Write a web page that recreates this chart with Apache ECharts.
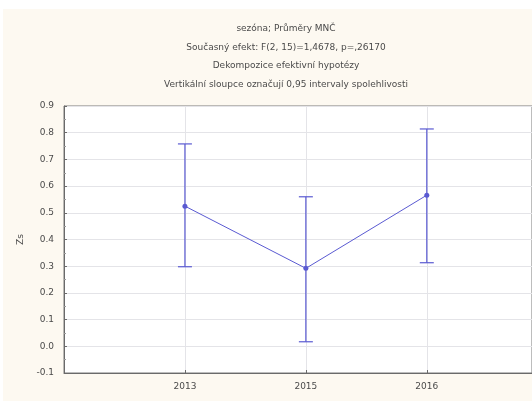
<!DOCTYPE html>
<html>
<head>
<meta charset="utf-8">
<script src="https://cdn.jsdelivr.net/npm/echarts@6/dist/echarts.min.js"></script>
<style>
  html, body { margin: 0; padding: 0; background: #ffffff; }
  #bg { position: absolute; left: 3px; top: 9px; width: 529px; height: 392px; background: #fdf9f1; }
  #chart { position: absolute; left: 0; top: 0; width: 532px; height: 401px; }
</style>
</head>
<body>
<div id="bg"></div>
<div id="chart"></div>
<script>
const years = ['2013', '2015', '2016']
const means = [0.525, 0.292, 0.566]
const lowers = [0.298, 0.017, 0.313]
const uppers = [0.758, 0.560, 0.814]
const titleLines = [
  'sezóna; Průměry MNČ',
  'Současný efekt: F(2, 15)=1,4678, p=,26170',
  'Dekompozice efektivní hypotézy',
  'Vertikální sloupce označují 0,95 intervaly spolehlivosti'
]

const chart = echarts.init(document.getElementById('chart'))
const lineColor = '#5a5ad2'
const textColor = '#4a4a4a'
const font = 'DejaVu Sans'

const linePoints = means.map((v, i) => [i + 1, v])
const barPoints = years.map((y, i) => [i + 1, lowers[i], uppers[i]])

chart.setOption({
  backgroundColor: 'transparent',
  animation: false,
  title: titleLines.map((t, i) => ({
    text: t,
    left: 281,
    textAlign: 'center',
    top: 19 + i * 18.7,
    textStyle: {
      fontFamily: font,
      fontSize: 9,
      fontWeight: 'normal',
      color: textColor
    }
  })),
  grid: {
    left: 64,
    right: 0,
    top: 106,
    bottom: 28,
    show: true,
    backgroundColor: '#ffffff',
    borderColor: '#7a7a7a',
    borderWidth: 1
  },
  xAxis: {
    type: 'value',
    min: 0,
    max: 3.87,
    interval: 1,
    axisLine: { show: true, onZero: false, lineStyle: { color: '#6a6a6a' } },
    axisTick: { show: true, inside: true, length: 3, lineStyle: { color: '#6a6a6a' } },
    axisLabel: {
      color: textColor,
      fontFamily: font,
      fontSize: 9,
      margin: 9,
      showMaxLabel: false,
      formatter: v => years[v - 1] || ''
    },
    splitLine: { show: true, lineStyle: { color: '#e4e4e8' } }
  },
  yAxis: {
    type: 'value',
    min: -0.1,
    max: 0.9,
    interval: 0.1,
    name: 'Zs',
    nameLocation: 'middle',
    nameGap: 38,
    nameTextStyle: { color: textColor, fontFamily: font, fontSize: 9 },
    axisLine: { show: true, lineStyle: { color: '#6a6a6a' } },
    axisTick: { show: true, inside: true, length: 3, lineStyle: { color: '#6a6a6a' } },
    minorTick: { show: true, splitNumber: 2, length: 2, lineStyle: { color: '#9a9a9a' } },
    axisLabel: {
      color: textColor,
      fontFamily: font,
      fontSize: 9,
      margin: 10,
      formatter: v => v.toFixed(1)
    },
    splitLine: { show: true, lineStyle: { color: '#e4e4e8' } }
  },
  series: [
    {
      type: 'custom',
      data: barPoints,
      renderItem: (params, api) => {
        const top = api.coord([api.value(0), api.value(2)])
        const bottom = api.coord([api.value(0), api.value(1)])
        const half = 7
        const style = { stroke: lineColor, lineWidth: 1.2 }
        return {
          type: 'group',
          children: [
            { type: 'line', shape: { x1: top[0], y1: top[1], x2: bottom[0], y2: bottom[1] }, style },
            { type: 'line', shape: { x1: top[0] - half, y1: top[1], x2: top[0] + half, y2: top[1] }, style },
            { type: 'line', shape: { x1: bottom[0] - half, y1: bottom[1], x2: bottom[0] + half, y2: bottom[1] }, style }
          ]
        }
      },
      z: 3
    },
    {
      type: 'line',
      data: linePoints,
      symbol: 'circle',
      symbolSize: 5,
      lineStyle: { color: lineColor, width: 1 },
      itemStyle: { color: lineColor },
      z: 4
    }
  ]
})
</script>
</body>
</html>
